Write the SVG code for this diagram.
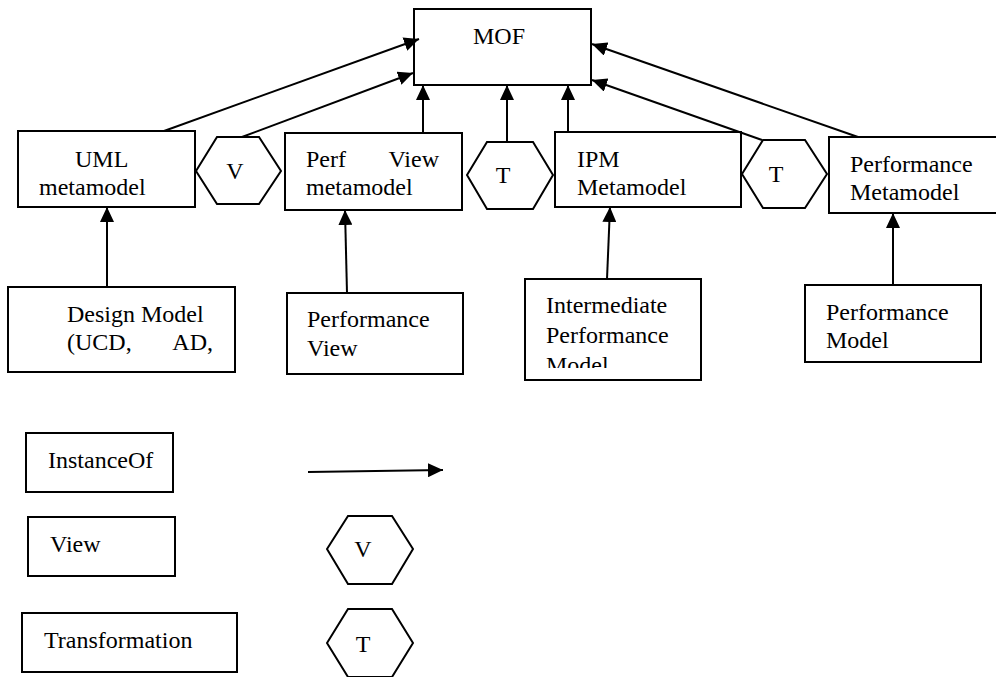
<svg xmlns="http://www.w3.org/2000/svg" width="996" height="677" viewBox="0 0 996 677">
<style>
  .box{fill:#fff;stroke:#000;stroke-width:2}
  .hex{fill:#fff;stroke:#000;stroke-width:2;stroke-linejoin:miter}
  .lbl{font-family:"Liberation Serif","Times New Roman",serif;font-size:24px;fill:#000}
  .conn{fill:none;stroke:#000;stroke-width:2;marker-end:url(#arr)}
</style>
<defs>
  <marker id="arr" markerUnits="userSpaceOnUse" markerWidth="16" markerHeight="14" refX="15" refY="7" orient="auto">
    <path d="M0,0 L15,7 L0,14 z" fill="#000"/>
  </marker>
  <clipPath id="clipIPMod"><rect x="525" y="279" width="176" height="89"/></clipPath>
</defs>
<rect width="996" height="677" fill="#fff"/>

<g id="mof">
  <rect class="box" x="414" y="9" width="177" height="76"/>
  <text class="lbl" x="473" y="44">MOF</text>
</g>
<g id="uml-metamodel">
  <rect class="box" x="18" y="131" width="177" height="76"/>
  <text class="lbl" x="75" y="167">UML</text>
  <text class="lbl" x="39" y="195">metamodel</text>
</g>
<g id="view-v">
  <polygon class="hex" points="196,171 217,137 259,137 281,171 259,204 217,204"/>
  <text class="lbl" x="235" y="179" text-anchor="middle">V</text>
</g>
<g id="perf-view-metamodel">
  <rect class="box" x="285" y="133" width="177" height="77"/>
  <text class="lbl" x="306" y="167">Perf</text>
  <text class="lbl" x="439" y="167" text-anchor="end">View</text>
  <text class="lbl" x="306" y="195">metamodel</text>
</g>
<g id="transform-t1">
  <polygon class="hex" points="467,175 487,142 533,142 553,175 533,209 487,209"/>
  <text class="lbl" x="503" y="183" text-anchor="middle">T</text>
</g>
<g id="ipm-metamodel">
  <rect class="box" x="555" y="132" width="186" height="75"/>
  <text class="lbl" x="577" y="167">IPM</text>
  <text class="lbl" x="577" y="195">Metamodel</text>
</g>
<g id="transform-t2">
  <polygon class="hex" points="742,174 763,140 805,140 827,174 805,208 763,208"/>
  <text class="lbl" x="776" y="182" text-anchor="middle">T</text>
</g>
<g id="performance-metamodel">
  <rect class="box" x="829" y="137" width="180" height="76"/>
  <text class="lbl" x="850" y="172">Performance</text>
  <text class="lbl" x="850" y="200">Metamodel</text>
</g>

<g id="design-model">
  <rect class="box" x="8" y="287" width="227" height="85"/>
  <text class="lbl" x="67" y="322">Design Model</text>
  <text class="lbl" x="67" y="350">(UCD,</text>
  <text class="lbl" x="213" y="350" text-anchor="end">AD,</text>
</g>
<g id="performance-view">
  <rect class="box" x="287" y="293" width="176" height="81"/>
  <text class="lbl" x="307" y="327">Performance</text>
  <text class="lbl" x="307" y="356">View</text>
</g>
<g id="intermediate-performance-model">
  <rect class="box" x="525" y="279" width="176" height="101"/>
  <text class="lbl" x="546" y="313">Intermediate</text>
  <text class="lbl" x="546" y="343">Performance</text>
  <text class="lbl" x="546" y="373" clip-path="url(#clipIPMod)">Model</text>
</g>
<g id="performance-model">
  <rect class="box" x="805" y="285" width="176" height="77"/>
  <text class="lbl" x="826" y="320">Performance</text>
  <text class="lbl" x="826" y="348">Model</text>
</g>

<g id="legend-instanceof">
  <rect class="box" x="26" y="433" width="147" height="59"/>
  <text class="lbl" x="48" y="468">InstanceOf</text>
</g>
<g id="legend-view">
  <rect class="box" x="28" y="517" width="147" height="59"/>
  <text class="lbl" x="50" y="552">View</text>
</g>
<g id="legend-transformation">
  <rect class="box" x="22" y="613" width="215" height="59"/>
  <text class="lbl" x="44" y="648">Transformation</text>
</g>
<g id="legend-v">
  <polygon class="hex" points="327,549 348,516 392,516 413,549 392,584 348,584"/>
  <text class="lbl" x="363" y="557" text-anchor="middle">V</text>
</g>
<g id="legend-t">
  <polygon class="hex" points="327,643 348,609 392,609 413,643 392,677 348,677"/>
  <text class="lbl" x="363" y="652" text-anchor="middle">T</text>
</g>

<g id="connectors">
  <line class="conn" x1="164" y1="131" x2="419" y2="39"/>
  <line class="conn" x1="242" y1="137" x2="413" y2="73"/>
  <line class="conn" x1="423" y1="133" x2="423" y2="85"/>
  <line class="conn" x1="507" y1="142" x2="507" y2="85"/>
  <line class="conn" x1="568" y1="132" x2="568" y2="85"/>
  <line class="conn" x1="762" y1="140" x2="592" y2="80"/>
  <line class="conn" x1="858" y1="137" x2="592" y2="44"/>
  <line class="conn" x1="107" y1="287" x2="107" y2="207"/>
  <line class="conn" x1="347" y1="293" x2="345" y2="210"/>
  <line class="conn" x1="607" y1="279" x2="610" y2="207"/>
  <line class="conn" x1="893" y1="285" x2="893" y2="213"/>
  <line class="conn" x1="308" y1="472" x2="443" y2="470"/>
</g>
</svg>
